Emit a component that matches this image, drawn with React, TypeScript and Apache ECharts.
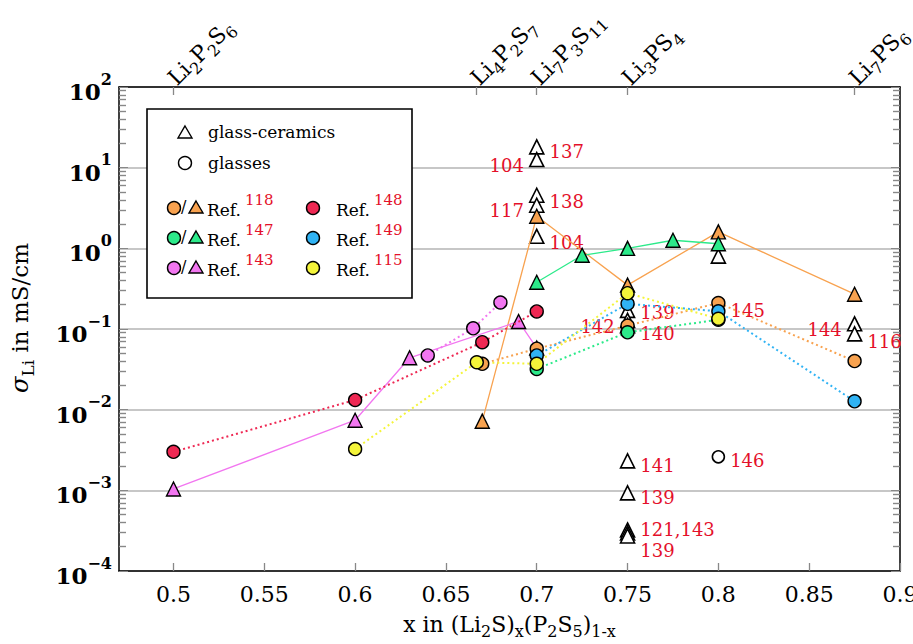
import React, { useEffect, useRef } from 'react';
import * as echarts from 'echarts';

const F = 'DejaVu Serif';
const RED = '#E4102A';
const C = {
  orange: '#F8A24F',
  green: '#2CEA8A',
  pink: '#F276F0',
  red: '#EE2853',
  blue: '#30B3F4',
  yellow: '#F4F43A',
};

// axis ticks
const xTicks = [0.5, 0.55, 0.6, 0.65, 0.7, 0.75, 0.8, 0.85, 0.9];
const compoundX = [0.5, 0.6667, 0.7, 0.75, 0.875];
const compoundNames = ['Li2P2S6', 'Li4P2S7', 'Li7P3S11', 'Li3PS4', 'Li7PS6'];

// Ref. 118
const ref118GC = [[0.67, 0.0072], [0.7, 2.5], [0.75, 0.35], [0.8, 1.6], [0.875, 0.27]];
const ref118Glass = [[0.67, 0.037], [0.7, 0.057], [0.75, 0.11], [0.8, 0.21], [0.875, 0.04]];
// Ref. 147
const ref147GC = [[0.7, 0.38], [0.725, 0.82], [0.75, 1.0], [0.775, 1.26], [0.8, 1.14]];
const ref147Glass = [[0.7, 0.032], [0.75, 0.091], [0.8, 0.13]];
// Ref. 143
const ref143GC = [[0.5, 0.00104], [0.6, 0.0074], [0.63, 0.044], [0.69, 0.124], [0.7, 0.058]];
const ref143Glass = [[0.64, 0.047], [0.665, 0.102], [0.68, 0.213]];
// Ref. 148, 149, 115 (glasses)
const ref148Glass = [[0.5, 0.003], [0.6, 0.0132], [0.67, 0.0686], [0.7, 0.165]];
const ref149Glass = [[0.7, 0.047], [0.75, 0.205], [0.8, 0.166], [0.875, 0.0127]];
const ref115Glass = [[0.6, 0.00325], [0.667, 0.0387], [0.7, 0.037], [0.75, 0.278], [0.8, 0.134]];

// other glass-ceramics (open triangles) with reference numbers
const otherGCx = [0.7, 0.7, 0.7, 0.7, 0.7, 0.75, 0.75, 0.75, 0.75, 0.75, 0.75, 0.75, 0.75, 0.8, 0.875, 0.875];
const otherGCy = [18.1, 12.6, 4.55, 3.42, 1.41, 0.17, 0.128, 0.11, 0.00232, 0.00093, 0.000323, 0.000296, 0.000272, 0.8, 0.116, 0.087];
const otherGCref = ['137', '104', '138', '117', '104', '139', '142', '140', '141', '139', '121,143', '', '139', '', '144', '116'];
const otherGCside = ['right', 'left', 'right', 'left', 'right', 'right', 'left', 'right', 'right', 'right', 'right', 'right', 'right', 'right', 'left', 'right'];
const otherGCdy = [5, 6, 6, 5, 6, 2, 6, 8, 5, 5, 0, 0, 15, 0, 6, 8];

// other glass (open circle)
const otherGlassX = [0.8];
const otherGlassY = [0.0026];
const otherGlassRef = ['146'];

// label on Ref.118 glass at 0.8
const ref118GlassNotes = ['', '', '', '145', ''];

const richify = (name: string) =>
  name
    .split(/(\d+)/)
    .filter(Boolean)
    .map((p) => (/^\d+$/.test(p) ? `{s|${p}}` : `{n|${p}}`))
    .join('');

const supNum = (e: number) => (e < 0 ? '\u2212' + -e : String(e));

// minor tick positions (log10 of 2..9 within each decade), used on linear exponent axes
const minorPos: number[] = [];
for (let n = -4; n < 2; n++) for (let k = 2; k <= 9; k++) minorPos.push(n + Math.log10(k));

const labelBase = { color: RED, fontSize: 18, lineHeight: 15, fontFamily: F, distance: 5, opacity: 1 };

export default function App() {
  const ref = useRef<HTMLDivElement>(null);
  useEffect(() => {
    document.body.style.margin = '0';
    const chart = echarts.init(ref.current!, null, { renderer: 'svg' });

    const gcSeries = (name: string, data: number[][], color: string) => ({
      name,
      type: 'line',
      data,
      symbol: 'triangle',
      symbolSize: 14,
      itemStyle: { color, borderColor: '#000', borderWidth: 1.4, opacity: 1 },
      lineStyle: { color, width: 1.3, type: 'solid' },
      z: 3,
    });
    const glassSeries = (name: string, data: any[], color: string) => ({
      name,
      type: 'line',
      data,
      symbol: 'circle',
      symbolSize: 13,
      itemStyle: { color, borderColor: '#000', borderWidth: 1.4, opacity: 1 },
      lineStyle: { color, width: 2, type: [2, 3] },
      z: 4,
    });

    const tri = (cx: number, cy: number, fill: string) => ({
      type: 'polygon',
      z: 101,
      shape: { points: [[cx, cy - 7], [cx + 7, cy + 5], [cx - 7, cy + 5]] },
      style: { fill, stroke: '#000', lineWidth: 1.4 },
    });
    const circ = (cx: number, cy: number, fill: string) => ({
      type: 'circle',
      z: 101,
      shape: { cx, cy, r: 6.5 },
      style: { fill, stroke: '#000', lineWidth: 1.4 },
    });
    const refText = (x: number, y: number, num: string) => ({
      type: 'text',
      z: 101,
      x,
      y,
      style: {
        text: `{r|Ref.}{s|${num}}`,
        textVerticalAlign: 'middle',
        rich: {
          r: { fontFamily: F, fontSize: 17, fill: '#000', color: '#000', lineHeight: 26, verticalAlign: 'bottom' },
          s: { fontFamily: F, fontSize: 15, fill: RED, color: RED, lineHeight: 15, verticalAlign: 'top', padding: [0, 0, 0, 4] },
        },
      },
    });
    const plainText = (x: number, y: number, text: string) => ({
      type: 'text',
      z: 101,
      x,
      y,
      style: { text, font: `17px "${F}"`, fill: '#000', textVerticalAlign: 'middle' },
    });

    const rows = [208, 238, 268];
    const leftRefs = [['118', C.orange], ['147', C.green], ['143', C.pink]];
    const rightRefs = [['148', C.red], ['149', C.blue], ['115', C.yellow]];
    const legend: any[] = [
      { type: 'rect', z: 100, shape: { x: 147, y: 109, width: 265, height: 189 }, style: { fill: '#fff', stroke: '#000', lineWidth: 1.6 } },
      tri(185, 133, '#fff'),
      plainText(208, 132, 'glass-ceramics'),
      circ(185, 163, '#fff'),
      plainText(208, 163, 'glasses'),
    ];
    leftRefs.forEach(([num, col], i) => {
      const y = rows[i];
      legend.push(circ(174, y, col));
      legend.push({ type: 'text', z: 101, x: 181, y: y - 2, style: { text: '/', font: `16px "${F}"`, fill: '#000', textVerticalAlign: 'middle' } });
      legend.push(tri(196, y, col));
      legend.push(refText(207, y - 3, num));
    });
    rightRefs.forEach(([num, col], i) => {
      const y = rows[i];
      legend.push(circ(313, y, col));
      legend.push(refText(336, y - 3, num));
    });

    const xName = '{n|x in (Li}{s|2}{n|S)}{s|x}{n|(P}{s|2}{n|S}{s|5}{n|)}{s|1-x}';

    const minorAxis = (position: string) => ({
      type: 'value',
      position,
      min: -4,
      max: 2,
      axisLine: { show: false },
      axisTick: { show: true, inside: true, length: 7, customValues: minorPos, lineStyle: { color: '#888', width: 1.4 } },
      axisLabel: { show: false },
      splitLine: { show: false },
    });

    const option: any = {
      animation: false,
      backgroundColor: '#fff',
      grid: { left: 119, right: 13, top: 87, bottom: 73, containLabel: false, outerBoundsMode: 'none' },
      xAxis: [
        {
          type: 'value',
          position: 'bottom',
          min: 0.47,
          max: 0.9,
          axisLine: { show: true, onZero: false, lineStyle: { color: '#000', width: 1.5 } },
          axisTick: { show: true, inside: true, length: 8, customValues: xTicks, lineStyle: { color: '#888', width: 1.3 } },
          axisLabel: {
            customValues: xTicks,
            formatter: (v: number) => String(Number(v.toFixed(2))),
            fontFamily: F,
            fontSize: 22,
            color: '#000',
            margin: 12,
          },
          splitLine: { show: false },
          name: xName,
          nameLocation: 'middle',
          nameGap: 42,
          nameTextStyle: {
            rich: {
              n: { fontFamily: F, fontSize: 22, color: '#000', lineHeight: 26, verticalAlign: 'top' },
              s: { fontFamily: F, fontSize: 16, color: '#000', lineHeight: 16, verticalAlign: 'bottom' },
            },
          },
        },
        {
          type: 'value',
          position: 'top',
          min: 0.47,
          max: 0.9,
          axisLine: { show: true, onZero: false, lineStyle: { color: '#000', width: 1.5 } },
          axisTick: { show: true, inside: true, length: 8, customValues: compoundX, lineStyle: { color: '#888', width: 1.3 } },
          axisLabel: {
            customValues: compoundX,
            rotate: -45,
            margin: 4,
            formatter: (v: number) => {
              const i = compoundX.findIndex((c) => Math.abs(c - v) < 1e-3);
              return i >= 0 ? richify(compoundNames[i]) : '';
            },
            rich: {
              n: { fontFamily: F, fontSize: 22, color: '#000', lineHeight: 27, verticalAlign: 'top' },
              s: { fontFamily: F, fontSize: 16, color: '#000', lineHeight: 16, verticalAlign: 'bottom' },
            },
          },
          splitLine: { show: false },
        },
      ],
      yAxis: [
        {
          type: 'log',
          logBase: 10,
          min: 1e-4,
          max: 100,
          position: 'left',
          axisLine: { show: true, lineStyle: { color: '#000', width: 1.5 } },
          axisTick: { show: true, inside: true, length: 9, lineStyle: { color: '#888' } },
          splitLine: { show: true, lineStyle: { color: '#b4b4b4', width: 1.5 } },
          axisLabel: {
            margin: 7,
            formatter: (v: number) => `{b|10}{e|${supNum(Math.round(Math.log10(v)))}}`,
            rich: {
              b: { fontFamily: F, fontSize: 23, fontWeight: 'bold', color: '#000', lineHeight: 32, verticalAlign: 'bottom' },
              e: { fontFamily: F, fontSize: 16, fontWeight: 'bold', color: '#000', lineHeight: 18, verticalAlign: 'top' },
            },
          },
          name: '{i|\u03c3}{s|Li}{n| in mS/cm}',
          nameLocation: 'middle',
          nameGap: 83,
          nameRotate: 90,
          nameTextStyle: {
            padding: [0, 0, 0, 22],
            rich: {
              i: { fontFamily: F, fontSize: 24, fontStyle: 'italic', color: '#000', lineHeight: 28, verticalAlign: 'top' },
              n: { fontFamily: F, fontSize: 23, color: '#000', lineHeight: 28, verticalAlign: 'top' },
              s: { fontFamily: F, fontSize: 17, color: '#000', lineHeight: 17, verticalAlign: 'bottom' },
            },
          },
        },
        {
          type: 'log',
          logBase: 10,
          min: 1e-4,
          max: 100,
          position: 'right',
          axisLine: { show: true, lineStyle: { color: '#000', width: 1.5 } },
          axisTick: { show: true, inside: true, length: 9, lineStyle: { color: '#888' } },
          axisLabel: { show: false },
          splitLine: { show: false },
        },
        minorAxis('left'),
        minorAxis('right'),
      ],
      graphic: legend,
      series: [
        {
          name: 'glass-ceramics',
          type: 'scatter',
          symbol: 'triangle',
          symbolSize: 14,
          z: 2,
          itemStyle: { color: '#fff', borderColor: '#000', borderWidth: 1.6, opacity: 1 },
          data: otherGCx.map((x, i) => ({
            value: [x, otherGCy[i]],
            label: {
              ...labelBase,
              show: otherGCref[i] !== '',
              position: otherGCside[i],
              offset: [0, otherGCdy[i]],
              formatter: otherGCref[i],
            },
          })),
        },
        {
          name: 'glasses',
          type: 'scatter',
          symbol: 'circle',
          symbolSize: 12,
          z: 2,
          itemStyle: { color: '#fff', borderColor: '#000', borderWidth: 1.6, opacity: 1 },
          data: otherGlassX.map((x, i) => ({
            value: [x, otherGlassY[i]],
            label: { ...labelBase, show: true, position: 'right', offset: [0, 4], formatter: otherGlassRef[i] },
          })),
        },
        gcSeries('Ref. 118 gc', ref118GC, C.orange),
        gcSeries('Ref. 147 gc', ref147GC, C.green),
        gcSeries('Ref. 143 gc', ref143GC, C.pink),
        glassSeries(
          'Ref. 118 glass',
          ref118Glass.map((d, i) => ({
            value: d,
            label: { ...labelBase, show: ref118GlassNotes[i] !== '', position: 'right', offset: [0, 7], formatter: ref118GlassNotes[i] },
          })),
          C.orange,
        ),
        glassSeries('Ref. 147 glass', ref147Glass, C.green),
        glassSeries('Ref. 143 glass', ref143Glass, C.pink),
        glassSeries('Ref. 148', ref148Glass, C.red),
        glassSeries('Ref. 149', ref149Glass, C.blue),
        glassSeries('Ref. 115', ref115Glass, C.yellow),
      ],
    };
    chart.setOption(option);
    return () => chart.dispose();
  }, []);
  return <div ref={ref} style={{ width: 913, height: 644 }} />;
}
